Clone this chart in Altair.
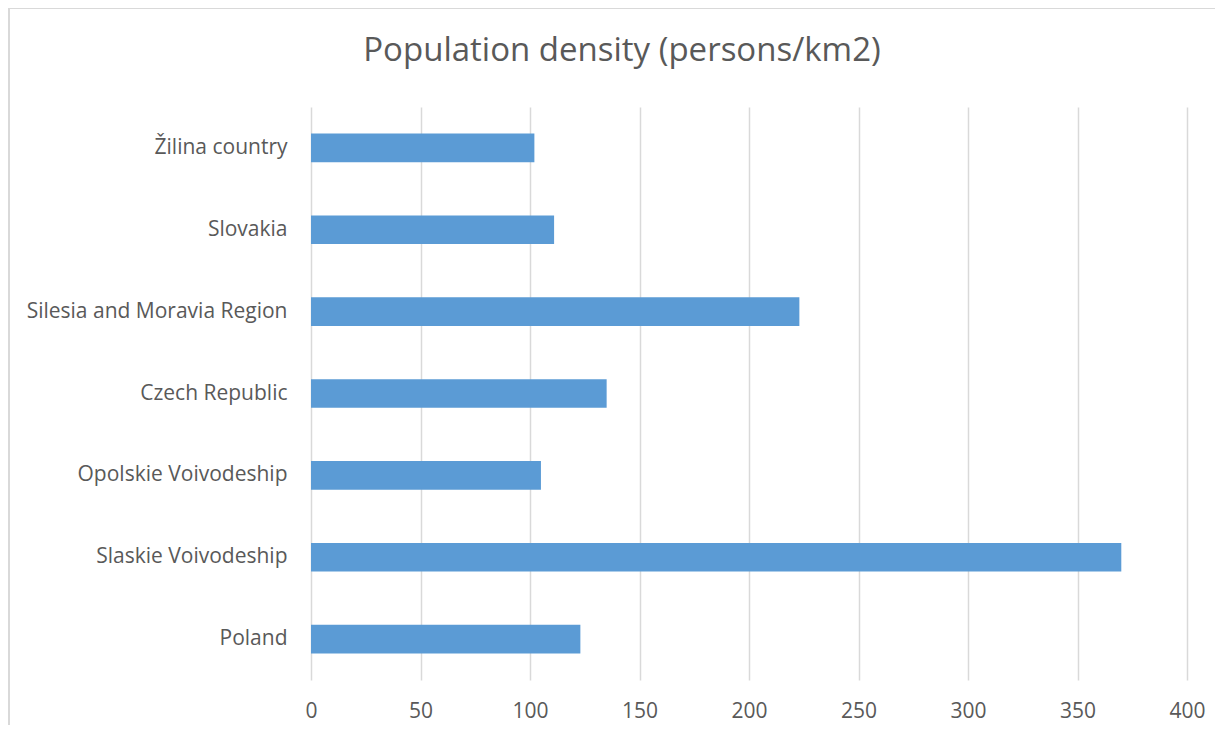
import altair as alt
import pandas as pd

regions = ["Žilina country", "Slovakia", "Silesia and Moravia Region", "Czech Republic",
           "Opolskie Voivodeship", "Slaskie Voivodeship", "Poland"]
density = [102, 111, 223, 135, 105, 370, 123]
x_ticks = [0, 50, 100, 150, 200, 250, 300, 350, 400]

df = pd.DataFrame({"region": regions, "density": density})

FONT = "Open Sans"
GREY = "#595959"

bars = alt.Chart(df).mark_bar(color="#5B9BD5").encode(
    x=alt.X("density:Q",
            scale=alt.Scale(domain=[0, 400], nice=False),
            axis=alt.Axis(values=x_ticks, title=None, grid=True, gridColor="#d9d9d9",
                          gridWidth=1.5, domain=False, ticks=False, labelPadding=20,
                          labelFlush=False,
                          labelFont=FONT, labelFontSize=21, labelColor=GREY)),
    y=alt.Y("region:N", sort=regions,
            scale=alt.Scale(paddingInner=0.65, paddingOuter=0.325),
            axis=alt.Axis(title=None, domain=False, ticks=False, labelPadding=24,
                          labelFont=FONT, labelFontSize=21, labelColor=GREY, labelLimit=400)),
)

border_top = alt.Chart(df).mark_rule(color="#d9d9d9", strokeWidth=2, clip=False).encode(
    x=alt.value(-302), x2=alt.value(940), y=alt.value(-99)
)
border_left = alt.Chart(df).mark_rule(color="#d9d9d9", strokeWidth=2, clip=False).encode(
    x=alt.value(-302), y=alt.value(-99), y2=alt.value(700)
)

chart = alt.layer(border_top, border_left, bars).properties(
    width=876, height=573,
    autosize=alt.AutoSizeParams(type="none"),
    padding={"left": 303, "top": 99, "right": 28, "bottom": 45},
    title=alt.TitleParams("Population density (persons/km2)", font=FONT, fontSize=33,
                          fontWeight="normal", color=GREY, anchor="middle",
                          dx=-127, dy=130, offset=43, baseline="alphabetic"),
).configure_view(stroke=None)

chart.save("out.html", embed_options={"renderer": "svg", "actions": False})
